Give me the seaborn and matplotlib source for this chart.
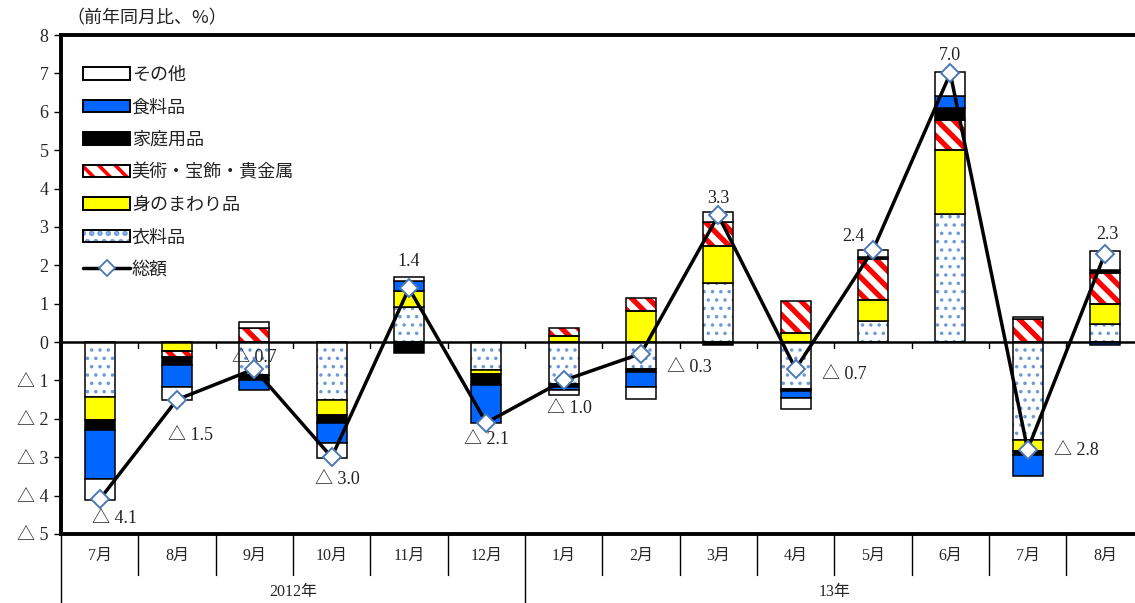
import numpy as np
import pandas as pd
import matplotlib
matplotlib.use("Agg")
import matplotlib.pyplot as plt
from matplotlib.patches import Patch
from matplotlib.lines import Line2D
from matplotlib.legend_handler import HandlerTuple
import seaborn as sns

# ---- data (前年同月比, %) ----
months = ["7月", "8月", "9月", "10月", "11月", "12月", "1月", "2月",
          "3月", "4月", "5月", "6月", "7月", "8月"]
years = ["2012年", "13年"]
year_first_month = [0, 6]

clothing  = [-1.43, 0.00, -0.86, -1.50, 0.92, -0.74, -1.08, -0.71, 1.53, -1.23, 0.55, 3.33, -2.56, 0.46]
personal  = [-0.61, -0.22, 0.00, -0.41, 0.41, -0.10, 0.17, 0.81, 0.98, 0.23, 0.55, 1.68, -0.28, 0.52]
art       = [0.00, -0.16, 0.37, 0.00, 0.00, 0.00, 0.20, 0.35, 0.63, 0.84, 1.07, 0.78, 0.59, 0.83]
household = [-0.26, -0.22, -0.14, -0.20, -0.28, -0.28, -0.09, -0.06, -0.08, -0.05, 0.05, 0.30, -0.11, 0.06]
food      = [-1.28, -0.58, -0.26, -0.51, 0.26, -1.00, -0.09, -0.40, 0.00, -0.17, 0.00, 0.33, -0.55, -0.07]
other     = [-0.53, -0.32, 0.16, -0.39, 0.10, 0.00, -0.11, -0.30, 0.24, -0.29, 0.19, 0.61, 0.07, 0.49]
total     = [-4.1, -1.5, -0.7, -3.0, 1.4, -2.1, -1.0, -0.3, 3.3, -0.7, 2.4, 7.0, -2.8, 2.3]

series_names = ["衣料品", "身のまわり品", "美術・宝飾・貴金属", "家庭用品", "食料品", "その他"]
series_values = [clothing, personal, art, household, food, other]
total_name = "総額"

ytick_values = list(range(-5, 9))
ytick_labels = ["△ 5", "△ 4", "△ 3", "△ 2", "△ 1", "0", "1", "2", "3", "4", "5", "6", "7", "8"]

# ---- styling ----
sns.set_theme(style="white")
plt.rcParams["font.family"] = ["Liberation Serif", "Noto Sans CJK JP"]
plt.rcParams["hatch.linewidth"] = 2.6
JP = ["Noto Sans CJK JP", "DejaVu Sans"]
NUM = ["Liberation Serif", "Noto Sans CJK JP"]

styles = {
    "衣料品": dict(facecolor="white", hatch="..", hatch_color="#6A9BD8", hlw=1.3),
    "身のまわり品": dict(facecolor="#FFFF00", hatch=None),
    "美術・宝飾・貴金属": dict(facecolor="white", hatch="\\\\", hatch_color="#FF0000", hlw=3.8),
    "家庭用品": dict(facecolor="#000000", hatch=None),
    "食料品": dict(facecolor="#0066FF", hatch=None),
    "その他": dict(facecolor="white", hatch=None),
}

W, H = 1135, 603
fig = plt.figure(figsize=(W / 100, H / 100), dpi=100)
ax = fig.add_axes([61 / W, 1 - 534 / H, (1143.6 - 61) / W, (534 - 35) / H])

x = np.arange(len(months))
bar_w = 0.39
edge_lw = 1.1

df = pd.DataFrame({n: v for n, v in zip(series_names, series_values)})
pos_base = np.zeros(len(x))
neg_base = np.zeros(len(x))


def draw_segment(xs, heights, bottoms, st):
    if st["hatch"]:
        bars = ax.bar(xs, heights, bar_w, bottom=bottoms, color="white",
                      edgecolor=st["hatch_color"], linewidth=0, hatch=st["hatch"], zorder=2)
        for b in bars:
            if hasattr(b, "set_hatch_linewidth"):
                b.set_hatch_linewidth(st["hlw"])
        ax.bar(xs, heights, bar_w, bottom=bottoms, facecolor="none",
               edgecolor="black", linewidth=edge_lw, zorder=3)
    else:
        ax.bar(xs, heights, bar_w, bottom=bottoms, color=st["facecolor"],
               edgecolor="black", linewidth=edge_lw, zorder=3)


for name in series_names:
    vals = df[name].to_numpy()
    st = styles[name]
    pos = np.where(vals > 0, vals, 0)
    neg = np.where(vals < 0, vals, 0)
    m = pos > 0
    if m.any():
        draw_segment(x[m], pos[m], pos_base[m], st)
    m = neg < 0
    if m.any():
        draw_segment(x[m], neg[m], neg_base[m], st)
    pos_base += pos
    neg_base += neg

# zero line and boundary ticks on it
ax.axhline(0, color="black", lw=1.8, zorder=4)
for b in np.arange(0.5, len(x) - 0.5):
    ax.plot([b, b], [0, -0.16], color="black", lw=1.0, zorder=4)

# total line
tot_df = pd.DataFrame({"x": x, "total": total})
sns.lineplot(data=tot_df, x="x", y="total", ax=ax, color="black", lw=2.5,
             marker="D", markersize=9, markerfacecolor="white",
             markeredgecolor="#4A78B5", markeredgewidth=1.4, zorder=6)

# value labels for the total
label_offsets = [(11, -14), (10, -26), (0, 8), (4, -16), (0, 19), (0, -12), (4, -20),
                 (35, -10), (0, 12), (35, -4), (-14, 10), (0, 13), (35, -1), (2, 14)]
for xi, v, off in zip(x, total, label_offsets):
    txt = f"{v:.1f}" if v >= 0 else f"△ {abs(v):.1f}"
    ax.annotate(txt, (xi, v), xytext=off, textcoords="offset points",
                ha="center", va="center", fontsize=13, family=NUM,
                color="#222222", zorder=7)

# axes frame
ax.set_xlim(-0.5, len(x) - 0.5)
ax.set_ylim(-5, 8)
for s in ax.spines.values():
    s.set_linewidth(2.8)
    s.set_color("black")
ax.set_xticks([])
ax.set_yticks(ytick_values)
ax.set_yticklabels(ytick_labels, family=NUM, fontsize=13)
ax.tick_params(axis="y", direction="out", length=5, width=1.0, color="black", pad=4,
               left=True)
ax.set_xlabel("")
ax.set_ylabel("")

# category table under the axis
tr = ax.get_xaxis_transform()
for b in np.arange(-0.5, len(x)):
    full = (b == -0.5) or any(b == f - 0.5 for f in year_first_month)
    ax.plot([b, b], [0, -0.14 if full else -0.082], transform=tr, color="black",
            lw=1.0, clip_on=False)
for xi, mname in zip(x, months):
    ax.text(xi, -0.044, mname, transform=tr, ha="center", va="center",
            fontsize=11.5, family=NUM)
ends = year_first_month[1:] + [len(x)]
for yname, a, e in zip(years, year_first_month, ends):
    ax.text((a + e - 1) / 2, -0.116, yname, transform=tr, ha="center", va="center",
            fontsize=11.5, family=NUM)

# unit note
fig.text(66 / W, 1 - 18 / H, "（前年同月比、%）", ha="left", va="center",
         fontsize=13, family=JP, color="#222222")

# legend
handles = []
for name in ["その他", "食料品", "家庭用品", "美術・宝飾・貴金属", "身のまわり品", "衣料品"]:
    st = styles[name]
    if st["hatch"]:
        h1 = Patch(facecolor="white", edgecolor=st["hatch_color"], hatch=st["hatch"], linewidth=0)
        if hasattr(h1, "set_hatch_linewidth"):
            h1.set_hatch_linewidth(st["hlw"])
        h2 = Patch(facecolor="none", edgecolor="black", linewidth=1.4)
        handles.append((h1, h2))
    else:
        handles.append(Patch(facecolor=st["facecolor"], edgecolor="black", linewidth=1.4))
handles.append(Line2D([], [], color="black", lw=2.5, marker="D", markersize=8,
                      markerfacecolor="white", markeredgecolor="#4A78B5",
                      markeredgewidth=1.3))
labels = ["その他", "食料品", "家庭用品", "美術・宝飾・貴金属", "身のまわり品", "衣料品", total_name]
leg = ax.legend(handles, labels, loc="upper left", bbox_to_anchor=(74 / W, 1 - 57 / H),
                bbox_transform=fig.transFigure, frameon=False, borderpad=0,
                handlelength=2.6, handleheight=0.7, handletextpad=0.1,
                labelspacing=0.8, prop={"family": JP, "size": 13},
                handler_map={tuple: HandlerTuple(ndivide=1, pad=0)})
for t in leg.get_texts():
    t.set_color("#222222")

fig.savefig("out.png", dpi=100)
